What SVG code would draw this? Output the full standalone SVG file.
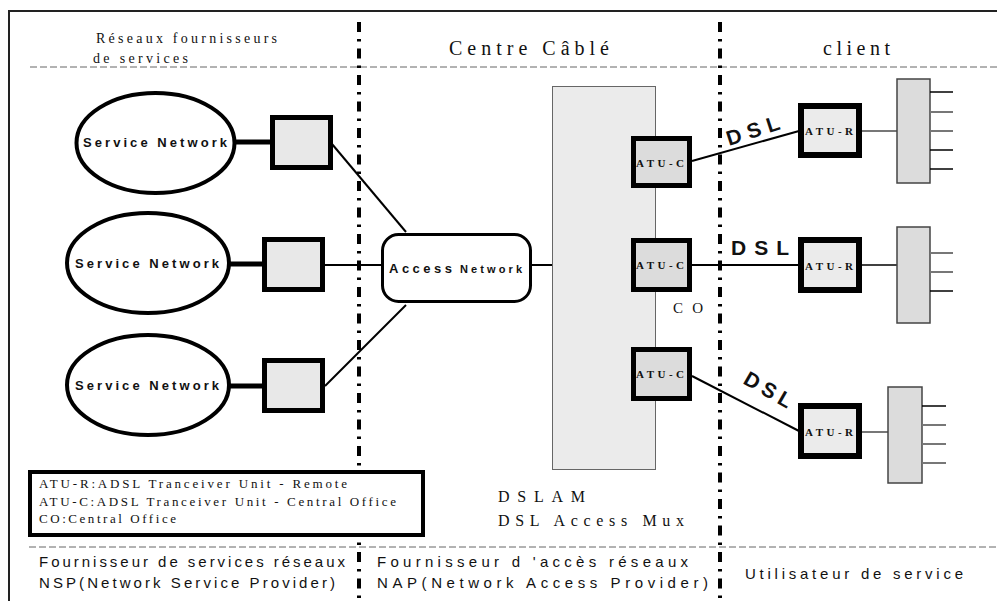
<svg xmlns="http://www.w3.org/2000/svg" width="997" height="601" viewBox="0 0 997 601">
  <style>
    .serif { font-family: "Liberation Serif", "Times New Roman", serif; fill: #111; }
    .sans { font-family: "Liberation Sans", Arial, sans-serif; fill: #111; }
    .hdr { font-size: 20px; }
    .zone { font-size: 14px; }
    .foot { font-size: 15px; }
    .leg { font-size: 13px; }
    .sn { font-size: 13px; font-weight: bold; }
    .atu { font-size: 11px; font-weight: bold; }
    .dsl { font-size: 21px; font-weight: bold; }
    .ell { fill: #fff; stroke: #000; stroke-width: 4; }
    .sq { fill: #e8e8e8; stroke: #000; stroke-width: 5; }
    .atuc { fill: #dcdcdc; stroke: #000; stroke-width: 5; }
    .atur { fill: #ebebeb; stroke: #000; stroke-width: 6; }
    .term { fill: #dcdcdc; stroke: #444; stroke-width: 1.5; }
    .divider { stroke: #000; stroke-width: 4; stroke-dasharray: 10 7 2.5 7; fill: none; }
    .hline { stroke: #666; stroke-width: 1; stroke-dasharray: 7 3; fill: none; }
    .thick { stroke: #000; stroke-width: 5; fill: none; }
    .thin { stroke: #000; stroke-width: 2; fill: none; }
    .stubk { stroke: #000; stroke-width: 1.5; }
    .stubg { stroke: #777; stroke-width: 2; }
  </style>

  <rect width="997" height="601" fill="#fff"/>

  <!-- frame -->
  <path d="M9,601 V11 H997" fill="none" stroke="#222" stroke-width="2"/>

  <!-- zone separators -->
  <line class="hline" x1="30" y1="67" x2="997" y2="67"/>
  <line class="hline" x1="29" y1="547" x2="997" y2="547"/>
  <line class="divider" x1="359" y1="22" x2="359" y2="601"/>
  <line class="divider" x1="720" y1="22" x2="720" y2="601"/>

  <!-- zone headers -->
  <text class="serif zone" x="96" y="43" textLength="181" lengthAdjust="spacing">Réseaux fournisseurs</text>
  <text class="serif zone" x="93" y="63" textLength="95" lengthAdjust="spacing">de services</text>
  <text class="serif hdr" x="449" y="55" textLength="160" lengthAdjust="spacing">Centre Câblé</text>
  <text class="serif hdr" x="823" y="55" textLength="67" lengthAdjust="spacing">client</text>

  <!-- zone footers -->
  <text class="sans foot" x="39" y="567" textLength="306" lengthAdjust="spacing">Fournisseur de services réseaux</text>
  <text class="sans foot" x="39" y="588" textLength="296" lengthAdjust="spacing">NSP(Network Service Provider)</text>
  <text class="sans foot" x="377" y="567" textLength="311" lengthAdjust="spacing">Fournisseur d 'accès réseaux</text>
  <text class="sans foot" x="377" y="588" textLength="331" lengthAdjust="spacing">NAP(Network Access Provider)</text>
  <text class="sans foot" x="745" y="579" textLength="218" lengthAdjust="spacing">Utilisateur de service</text>

  <!-- connectors -->
  <g id="connectors">
    <line class="thick" x1="235" y1="142" x2="272" y2="142"/>
    <line class="thick" x1="229" y1="264" x2="264" y2="264"/>
    <line class="thick" x1="229" y1="386" x2="264" y2="386"/>
    <line class="thin" x1="332" y1="144" x2="406" y2="232"/>
    <line class="thin" x1="325" y1="265" x2="382" y2="265"/>
    <line class="thin" x1="325" y1="386" x2="406" y2="305"/>
    <line class="thin" x1="532" y1="265" x2="552" y2="265"/>
    <line class="thin" x1="692" y1="161" x2="799" y2="131"/>
    <line class="thin" x1="692" y1="265" x2="799" y2="265"/>
    <line class="thin" x1="692" y1="376" x2="799" y2="431"/>
    <line class="stubg" x1="862" y1="131" x2="897" y2="131"/>
    <line class="stubk" x1="862" y1="265" x2="897" y2="265"/>
    <line class="stubg" x1="862" y1="432" x2="888" y2="432"/>
    <text class="sans dsl" transform="translate(729,146) rotate(-18)" textLength="55" lengthAdjust="spacing">DSL</text>
    <text class="sans dsl" x="731" y="255" textLength="58" lengthAdjust="spacing">DSL</text>
    <text class="sans dsl" transform="translate(742,383) rotate(30)" textLength="52" lengthAdjust="spacing">DSL</text>
  </g>

  <!-- service networks -->
  <g id="service-network-1">
    <ellipse class="ell" cx="155.5" cy="143" rx="79" ry="50"/>
    <text class="sans sn" x="83" y="147" textLength="144" lengthAdjust="spacing">Service Network</text>
  </g>
  <g id="service-network-2">
    <ellipse class="ell" cx="148" cy="263" rx="81" ry="50"/>
    <text class="sans sn" x="75" y="268" textLength="144" lengthAdjust="spacing">Service Network</text>
  </g>
  <g id="service-network-3">
    <ellipse class="ell" cx="148" cy="385" rx="81" ry="50"/>
    <text class="sans sn" x="75" y="390" textLength="144" lengthAdjust="spacing">Service Network</text>
  </g>

  <!-- gateway boxes -->
  <g id="gateway-1"><rect class="sq" x="272.5" y="117.5" width="58" height="50"/></g>
  <g id="gateway-2"><rect class="sq" x="264.5" y="239.5" width="58" height="50"/></g>
  <g id="gateway-3"><rect class="sq" x="264.5" y="360.5" width="58" height="50"/></g>

  <!-- access network -->
  <g id="access-network">
    <rect x="382.5" y="234.5" width="148" height="67" rx="16" fill="#fff" stroke="#000" stroke-width="3"/>
    <text class="sans" font-weight="bold" x="389" y="273"><tspan font-size="13" textLength="63" lengthAdjust="spacing">Access</tspan><tspan x="460" font-size="11" textLength="62" lengthAdjust="spacing">Network</tspan></text>
  </g>

  <!-- DSLAM -->
  <g id="dslam">
    <rect x="552.5" y="86.5" width="103" height="383" fill="#ebebeb" stroke="#666" stroke-width="1"/>
    <text class="serif" font-size="16" x="498" y="502" textLength="87" lengthAdjust="spacing">DSLAM</text>
    <text class="serif" font-size="16" x="498" y="526" textLength="186" lengthAdjust="spacing">DSL Access Mux</text>
  </g>

  <g id="atu-c-1">
    <rect class="atuc" x="633.5" y="138.5" width="56" height="47"/>
    <text class="serif atu" x="636" y="167" textLength="48" lengthAdjust="spacing">ATU-C</text>
  </g>
  <g id="atu-c-2">
    <rect class="atuc" x="633.5" y="240.5" width="56" height="49"/>
    <text class="serif atu" x="636" y="269" textLength="48" lengthAdjust="spacing">ATU-C</text>
  </g>
  <g id="atu-c-3">
    <rect class="atuc" x="633.5" y="349.5" width="56" height="49"/>
    <text class="serif atu" x="636" y="378" textLength="48" lengthAdjust="spacing">ATU-C</text>
  </g>
  <text class="serif" font-size="15" x="673" y="313" textLength="30" lengthAdjust="spacing">CO</text>

  <!-- customer premises -->
  <g id="atu-r-1">
    <rect class="atur" x="801" y="106" width="58" height="49"/>
    <text class="serif atu" x="805" y="135" textLength="48" lengthAdjust="spacing">ATU-R</text>
  </g>
  <g id="atu-r-2">
    <rect class="atur" x="801" y="240" width="58" height="50"/>
    <text class="serif atu" x="805" y="270" textLength="48" lengthAdjust="spacing">ATU-R</text>
  </g>
  <g id="atu-r-3">
    <rect class="atur" x="801" y="406" width="58" height="50"/>
    <text class="serif atu" x="805" y="436" textLength="48" lengthAdjust="spacing">ATU-R</text>
  </g>

  <g id="splitter-1">
    <rect class="term" x="897" y="79" width="33" height="104"/>
    <line class="stubk" x1="930" y1="92" x2="953" y2="92"/>
    <line class="stubg" x1="930" y1="112" x2="953" y2="112"/>
    <line class="stubg" x1="930" y1="131" x2="953" y2="131"/>
    <line class="stubk" x1="930" y1="150" x2="953" y2="150"/>
    <line class="stubk" x1="930" y1="169" x2="953" y2="169"/>
  </g>
  <g id="splitter-2">
    <rect class="term" x="897" y="227" width="33" height="96"/>
    <line class="stubg" x1="930" y1="253" x2="953" y2="253"/>
    <line class="stubg" x1="930" y1="272" x2="953" y2="272"/>
    <line class="stubk" x1="930" y1="291" x2="953" y2="291"/>
  </g>
  <g id="splitter-3">
    <rect class="term" x="888" y="387" width="34" height="96"/>
    <line class="stubk" x1="922" y1="406" x2="946" y2="406"/>
    <line class="stubg" x1="922" y1="425" x2="946" y2="425"/>
    <line class="stubg" x1="922" y1="444" x2="946" y2="444"/>
    <line class="stubg" x1="922" y1="463" x2="946" y2="463"/>
  </g>

  <!-- legend -->
  <g id="legend">
    <rect x="30" y="472" width="393" height="63" fill="#fff" stroke="#000" stroke-width="4"/>
    <text class="serif leg" x="39" y="488" textLength="308" lengthAdjust="spacing">ATU-R:ADSL Tranceiver Unit - Remote</text>
    <text class="serif leg" x="39" y="506" textLength="357" lengthAdjust="spacing">ATU-C:ADSL Tranceiver Unit - Central Office</text>
    <text class="serif leg" x="39" y="523" textLength="137" lengthAdjust="spacing">CO:Central Office</text>
  </g>
</svg>
